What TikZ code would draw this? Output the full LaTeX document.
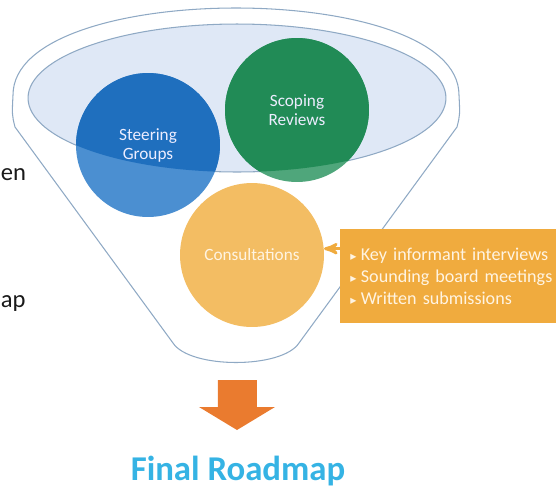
\documentclass[tikz,border=0pt]{standalone}
\usepackage{fontspec}
\setmainfont{Carlito}
\newfontfamily\symfont{DejaVu Sans}
\usepackage{tikz}
\usetikzlibrary{arrows}
\usetikzlibrary{calc}

\definecolor{funnelline}{HTML}{8FA9C4}
\definecolor{lensfill}{HTML}{DFE8F6}
\definecolor{steerdark}{HTML}{1F6FBE}
\definecolor{steerlight}{HTML}{4B8FD1}
\definecolor{scopedark}{HTML}{218B56}
\definecolor{scopelight}{HTML}{4FA67B}
\definecolor{consultfill}{HTML}{F3BD63}
\definecolor{boxfill}{HTML}{F0AB3E}
\definecolor{boxtext}{HTML}{FFF4E2}
\definecolor{downfill}{HTML}{EA7B2F}
\definecolor{roadmapblue}{HTML}{35B3E4}

\newcommand\defaultarrowstyle{stealth'}
\tikzset{>=\defaultarrowstyle}
\newcommand\linewd{.6pt}
\newcommand\feedwidth{1.6pt}
\newcommand\bubblesize{2.88cm}
\newcommand\lensx{4.18cm}
\newcommand\lensy{1.48cm}
\newcommand\pointer{{\symfont\fontsize{7}{7}\selectfont ▸}\hspace{2.5pt}}

\tikzstyle{outline}  = [line width=\linewd, color=funnelline]
\tikzstyle{bubble}   = [circle, minimum size=\bubblesize, inner sep=0pt, align=center,
                        text=white!93!blue, font=\fontsize{9.8}{10.8}\selectfont]
\tikzstyle{infobox}  = [rectangle, fill=boxfill, anchor=north west, minimum height=1.88cm,
                        text width=5cm, inner xsep=0.2cm, align=left, text=boxtext,
                        font=\fontsize{10.3}{12.4}\selectfont]
\tikzstyle{feed}     = [draw=boxfill, line width=\feedwidth, ->]
\tikzstyle{sidetext} = [anchor=base west, inner sep=0pt, text=black!90,
                        font=\fontsize{14}{14}\selectfont]
\tikzset{
    lensed/.style={
        path picture={\fill[#1] (lens) ellipse [x radius=\lensx, y radius=\lensy];}
    }
}

\begin{document}
\begin{tikzpicture}[x=0.02cm, y=-0.02cm]
  \useasboundingbox (0,0) rectangle (556,488);
  \clip (0,0) rectangle (556,488);
  % funnel
  \draw[outline] (15,127) -- (173,343) .. controls (190,369) and (282,369) .. (299,343)
    -- (457,127) .. controls (460,115) .. (459,95)
    .. controls (459,-21) and (13,-21) .. (13,95) .. controls (12,115) .. (15,127) -- cycle;
  \coordinate (lens) at (237,98);
  \draw[outline, fill=lensfill] (lens) ellipse [x radius=\lensx, y radius=\lensy];
  % circles
  \draw (148,145) node[bubble, fill=steerlight, lensed=steerdark] (steer) {Steering\\Groups};
  \draw (297,110) node[bubble, fill=scopelight, lensed=scopedark] (scope) {Scoping\\Reviews};
  \draw (252,255) node[bubble, fill=consultfill, text=boxtext] (consult) {Consultations};
  \draw (340,229) node[infobox] (tasks)
    {\pointer Key informant interviews\\ \pointer Sounding board meetings\\ \pointer Written submissions};
  \draw[feed] (consult.5 -| tasks.west) -- (consult.5);
  % arrow down
  \fill[downfill] (218,380) -- (257,380) -- (257,407) -- (275,407) -- (237,430)
    -- (199,407) -- (218,407) -- cycle;
  \draw (238,480) node[anchor=base, inner sep=0pt, text=roadmapblue,
    font=\bfseries\fontsize{19.8}{20}\selectfont] (roadmap) {Final Roadmap};
  \draw (0.5,180) node[sidetext] (cut1) {en};
  \draw (0.5,307) node[sidetext] (cut2) {ap};
\end{tikzpicture}
\end{document}
